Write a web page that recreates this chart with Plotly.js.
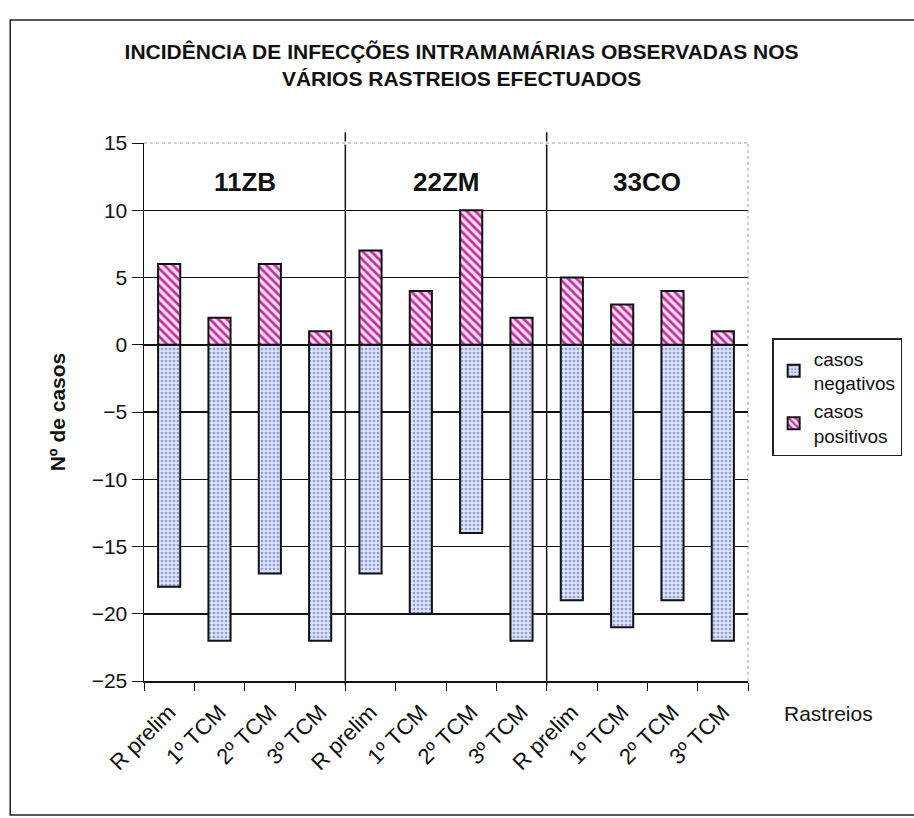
<!DOCTYPE html>
<html>
<head>
<meta charset="utf-8">
<script src="https://cdn.plot.ly/plotly-3.0.1.min.js"></script>
<style>html,body{margin:0;padding:0;background:#fff;}#chart{width:914px;height:818px;}</style>
</head>
<body>
<div id="chart"></div>
<script>
// ---- data ----
var groups = ["11ZB", "22ZM", "33CO"];
var rounds = ["R prelim", "1º TCM", "2º TCM", "3º TCM"];
var negativos = [-18, -22, -17, -22, -17, -20, -14, -22, -19, -21, -19, -22];
var positivos = [6, 2, 6, 1, 7, 4, 10, 2, 5, 3, 4, 1];
var yTicks = [-25, -20, -15, -10, -5, 0, 5, 10, 15];

// ---- derived ----
var xIdx = [], xText = [];
groups.forEach(function (g, gi) {
  rounds.forEach(function (r, ri) {
    xIdx.push(gi * rounds.length + ri);
    xText.push(r);
  });
});
var nCat = xIdx.length;

var font = "Liberation Sans, Arial, sans-serif";
var traces = [
  {
    type: "bar", name: "casos<br>negativos", x: xIdx, y: negativos, width: 0.44,
    marker: {
      color: "#dbe3f6",
      line: { color: "#111", width: 2 },
      pattern: { shape: ".", fgcolor: "#8e9cdc", bgcolor: "#dde4f7", size: 4, solidity: 0.35 }
    }
  },
  {
    type: "bar", name: "casos<br>positivos", x: xIdx, y: positivos, width: 0.44,
    marker: {
      color: "#e9a8de",
      line: { color: "#111", width: 2 },
      pattern: { shape: "\\", fgcolor: "#c0329e", bgcolor: "#f6dcf1", size: 6, solidity: 0.45 }
    }
  }
];

var shapes = [];
// group separators
for (var g = 1; g < groups.length; g++) {
  shapes.push({ type: "line", xref: "x", yref: "paper", x0: g * rounds.length - 0.5, x1: g * rounds.length - 0.5,
    y0: -0.008, y1: 1.02, line: { color: "#111", width: 1.5 }, layer: "above" });
}
// faint top and right borders
shapes.push({ type: "line", xref: "paper", yref: "paper", x0: 0, x1: 1, y0: 1, y1: 1, line: { color: "#fff", width: 3 }, layer: "above" });
shapes.push({ type: "line", xref: "paper", yref: "paper", x0: 0, x1: 1, y0: 1, y1: 1, line: { color: "#9a9aa8", width: 1, dash: "dot" }, layer: "above" });
shapes.push({ type: "line", xref: "paper", yref: "paper", x0: 1, x1: 1, y0: 0, y1: 1, line: { color: "#9a9aa8", width: 1, dash: "dot" }, layer: "above" });
// outer chart border
shapes.push({ type: "rect", xref: "paper", yref: "paper", x0: -0.2215, x1: 1.4, y0: -0.249, y1: 1.2286,
  line: { color: "#222", width: 1.5 }, fillcolor: "rgba(0,0,0,0)" });

var annotations = groups.map(function (g, gi) {
  return { text: "<b>" + g + "</b>", xref: "x", yref: "y", x: gi * rounds.length + (rounds.length - 1) / 2, y: 12.1,
    showarrow: false, xanchor: "center", yanchor: "middle", font: { family: font, size: 26, color: "#111" } };
});
annotations.push({ text: "Rastreios", xref: "paper", yref: "paper", x: 1.134, y: -0.06, xanchor: "center", yanchor: "middle",
  showarrow: false, font: { family: font, size: 21, color: "#111" } });

var layout = {
  width: 914, height: 818,
  margin: { l: 144, r: 156, t: 143, b: 137 },
  paper_bgcolor: "#fff", plot_bgcolor: "#fff",
  barmode: "relative",
  title: {
    text: "INCIDÊNCIA DE INFECÇÕES INTRAMAMÁRIAS OBSERVADAS NOS<br>VÁRIOS RASTREIOS EFECTUADOS",
    x: 0.505, xanchor: "center", y: 0.928, yanchor: "top",
    font: { family: font, size: 21, color: "#111", weight: "bold" }
  },
  xaxis: {
    range: [-0.5, nCat - 0.5],
    tickmode: "array", tickvals: xIdx, ticktext: xText, tickangle: -45,
    ticks: "", showgrid: false, zeroline: false, ticklabelstandoff: 8,
    showline: true, linecolor: "#111", linewidth: 1.5,
    minor: { tick0: 0.5, dtick: 1, ticks: "outside", ticklen: 8, tickcolor: "#111", tickwidth: 1, showgrid: false },
    tickfont: { family: font, size: 22, color: "#111" }
  },
  yaxis: {
    range: [-25, 15], tickmode: "array", tickvals: yTicks,
    ticks: "outside", ticklen: 11, tickcolor: "#111", tickwidth: 1,
    showgrid: true, gridcolor: "#111", gridwidth: 1.5,
    zeroline: true, zerolinecolor: "#111", zerolinewidth: 1.5,
    showline: true, linecolor: "#111", linewidth: 1.5,
    tickfont: { family: font, size: 21, color: "#111" },
    title: { text: "<b>Nº de casos</b>", standoff: 20, font: { family: font, size: 21, color: "#111" } }
  },
  legend: {
    x: 1.04, xanchor: "left", y: 0.6375, yanchor: "top",
    bgcolor: "#fff", bordercolor: "#222", borderwidth: 1.5,
    font: { family: font, size: 19, color: "#111" },
    traceorder: "normal", itemwidth: 30, tracegroupgap: 10
  },
  showlegend: true,
  shapes: shapes,
  annotations: annotations
};

Plotly.newPlot("chart", traces, layout, { displayModeBar: false, staticPlot: true });
</script>
</body>
</html>
